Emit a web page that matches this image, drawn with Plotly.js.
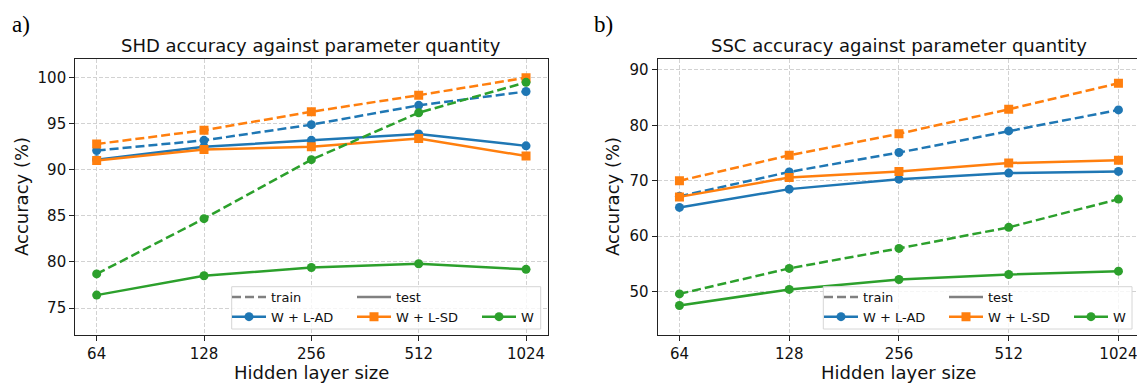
<!DOCTYPE html>
<html>
<head>
<meta charset="utf-8">
<script src="https://cdn.plot.ly/plotly-3.0.1.min.js"></script>
<style>html,body{margin:0;padding:0;background:#fff}#chart{width:1137px;height:385px}</style>
</head>
<body>
<div id="chart"></div>
<script>
// ---- data ----
const sizes = [64, 128, 256, 512, 1024];
const sizeLabels = ['64', '128', '256', '512', '1024'];

const shdLadTrain = [92.1, 93.2, 94.9, 97.0, 98.5];
const shdLadTest  = [91.1, 92.5, 93.2, 93.9, 92.6];
const shdLsdTrain = [92.8, 94.3, 96.3, 98.1, 100.0];
const shdLsdTest  = [91.0, 92.2, 92.5, 93.4, 91.5];
const shdWTrain   = [78.7, 84.7, 91.1, 96.2, 99.5];
const shdWTest    = [76.4, 78.5, 79.4, 79.8, 79.2];

const sscLadTrain = [67.2, 71.6, 75.1, 79.0, 82.8];
const sscLadTest  = [65.2, 68.5, 70.3, 71.4, 71.7];
const sscLsdTrain = [70.0, 74.6, 78.5, 82.9, 87.6];
const sscLsdTest  = [67.1, 70.6, 71.7, 73.2, 73.7];
const sscWTrain   = [49.6, 54.2, 57.8, 61.6, 66.7];
const sscWTest    = [47.5, 50.4, 52.2, 53.1, 53.7];

const shdTicks = [75, 80, 85, 90, 95, 100];
const sscTicks = [50, 60, 70, 80, 90];

const modelNames = ['W + L-AD', 'W + L-SD', 'W'];
const splitNames = ['train', 'test'];
const titles = ['SHD accuracy against parameter quantity', 'SSC accuracy against parameter quantity'];
const panelLabels = ['a)', 'b)'];
const xTitle = 'Hidden layer size';
const yTitle = 'Accuracy (%)';

// ---- styles ----
const colors = ['#1f77b4', '#ff7f0e', '#2ca02c'];
const symbols = ['circle', 'square', 'circle'];
const DASH = '9px,4px';
const LW = 2.5, MS = 9;
const W = 1137, H = 385;
const FONT = 'DejaVu Sans';
const ITEMW = 34;

function series(y, model, split, xa, ya) {
  return {
    x: sizes, y: y, xaxis: xa, yaxis: ya, type: 'scatter', mode: 'lines+markers',
    showlegend: false, hoverinfo: 'skip',
    line: {color: colors[model], width: LW, dash: split === 0 ? DASH : 'solid'},
    marker: {color: colors[model], size: MS, symbol: symbols[model]}
  };
}

const traces = [];
const shd = [[shdLadTrain, shdLadTest], [shdLsdTrain, shdLsdTest], [shdWTrain, shdWTest]];
const ssc = [[sscLadTrain, sscLadTest], [sscLsdTrain, sscLsdTest], [sscWTrain, sscWTest]];
for (let m = 0; m < 3; m++) for (let s = 0; s < 2; s++) traces.push(series(shd[m][s], m, s, 'x', 'y'));
for (let m = 0; m < 3; m++) for (let s = 0; s < 2; s++) traces.push(series(ssc[m][s], m, s, 'x2', 'y2'));

// ---- legends (each entry its own legend, placed in matplotlib-like grid) ----
const legendLayouts = {};
let legIdx = 1;
function addLegendEntry(name, kind, centerPx, rowPx) {
  const key = legIdx === 1 ? 'legend' : 'legend' + legIdx;
  const t = {x: [null], y: [null], type: 'scatter', name: name, showlegend: true,
             legend: key, hoverinfo: 'skip'};
  if (kind.split !== undefined) {
    t.mode = 'lines';
    t.line = {color: '#808080', width: LW, dash: kind.split === 0 ? DASH : 'solid'};
  } else {
    t.mode = 'lines+markers';
    t.line = {color: colors[kind.model], width: LW};
    t.marker = {color: colors[kind.model], size: MS, symbol: symbols[kind.model]};
  }
  traces.push(t);
  const originPx = centerPx - (5 + ITEMW / 2);
  legendLayouts[key] = {
    x: originPx / W, xanchor: 'left', y: 1 - rowPx / H, yanchor: 'middle',
    bgcolor: 'rgba(0,0,0,0)', borderwidth: 0, orientation: 'v', itemwidth: ITEMW,
    font: {family: FONT, size: 13, color: '#111'}, itemclick: false, itemdoubleclick: false
  };
  legIdx++;
}
const row1 = 297, row2 = 316.7;
const leftCols = [249, 374, 499], rightCols = [841, 966, 1091];
[leftCols, rightCols].forEach(cols => {
  addLegendEntry(splitNames[0], {split: 0}, cols[0], row1);
  addLegendEntry(splitNames[1], {split: 1}, cols[1], row1);
  for (let m = 0; m < 3; m++) addLegendEntry(modelNames[m], {model: m}, cols[m], row2);
});

// ---- axes ----
const yDom = [50 / H, 326 / H];
const lg = v => Math.log10(v);
const step = Math.log10(2);
function xax(domain, range, mirror) {
  return {
    domain: domain, type: 'log', range: range, tickvals: sizes, ticktext: sizeLabels,
    showline: true, linecolor: '#222', linewidth: 1, mirror: mirror,
    ticks: 'outside', ticklen: 5, tickwidth: 1, tickcolor: '#222',
    showgrid: true, gridcolor: '#d2d2d2', gridwidth: 1, griddash: '4px,2px', zeroline: false,
    ticklabeloverflow: 'allow',
    tickfont: {family: FONT, size: 15, color: '#111'}, fixedrange: true
  };
}
function yax(range, ticks, mirror, anchor) {
  return {
    domain: yDom, range: range, tickvals: ticks, anchor: anchor,
    showline: true, linecolor: '#222', linewidth: 1, mirror: mirror,
    ticks: 'outside', ticklen: 5, tickwidth: 1, tickcolor: '#222',
    showgrid: true, gridcolor: '#d2d2d2', gridwidth: 1, griddash: '4px,2px', zeroline: false,
    tickfont: {family: FONT, size: 15, color: '#111'}, fixedrange: true
  };
}
const xa1 = xax([75.2 / W, 547.5 / W], [lg(64) - 0.2 * step, lg(1024) + 0.2 * step], true);
xa1.anchor = 'y';
const xa2 = xax([657.5 / W, 1], [lg(64) - 0.2 * step, lg(64) + 4.169 * step], true);
xa2.anchor = 'y2';

const ann = [];
function text(t, xPx, yPx, size, opts) {
  ann.push(Object.assign({
    text: t, xref: 'paper', yref: 'paper', x: xPx / W, y: 1 - yPx / H,
    xanchor: 'center', yanchor: 'middle', showarrow: false,
    font: {family: FONT, size: size, color: '#111'}
  }, opts || {}));
}
text(titles[0], 311.4, 45, 18);
text(titles[1], 898.5, 45, 18);
text(xTitle, 311.4, 372, 18);
text(xTitle, 898.5, 372, 18);
text(yTitle, 22, 197, 18, {textangle: -90});
text(yTitle, 613, 197, 18, {textangle: -90});
text(panelLabels[0], 21, 24, 23, {font: {family: 'Liberation Serif', size: 23, color: '#000'}});
text(panelLabels[1], 603, 24, 23, {font: {family: 'Liberation Serif', size: 23, color: '#000'}});

const shapes = [
  {type: 'rect', xref: 'paper', yref: 'paper', x0: 231.7 / W, x1: 540.7 / W, y0: 1 - 329 / H, y1: 1 - 286.7 / H,
   line: {color: '#d6d6d6', width: 1}, fillcolor: 'rgba(255,255,255,0.8)', layer: 'above'},
  {type: 'rect', xref: 'paper', yref: 'paper', x0: 823.3 / W, x1: 1132 / W, y0: 1 - 329 / H, y1: 1 - 286.7 / H,
   line: {color: '#d6d6d6', width: 1}, fillcolor: 'rgba(255,255,255,0.8)', layer: 'above'}
];

const layout = Object.assign({
  width: W, height: H, margin: {l: 0, r: 0, t: 0, b: 0},
  paper_bgcolor: '#fff', plot_bgcolor: '#fff', showlegend: true,
  xaxis: xa1, yaxis: yax([72.07, 102.03], shdTicks, true, 'x'),
  xaxis2: xa2, yaxis2: yax([42.18, 91.98], sscTicks, false, 'x2'),
  annotations: ann, shapes: shapes, hovermode: false,
  font: {family: FONT, color: '#111'}
}, legendLayouts);

Plotly.newPlot('chart', traces, layout, {displayModeBar: false, staticPlot: true});
</script>
</body>
</html>
